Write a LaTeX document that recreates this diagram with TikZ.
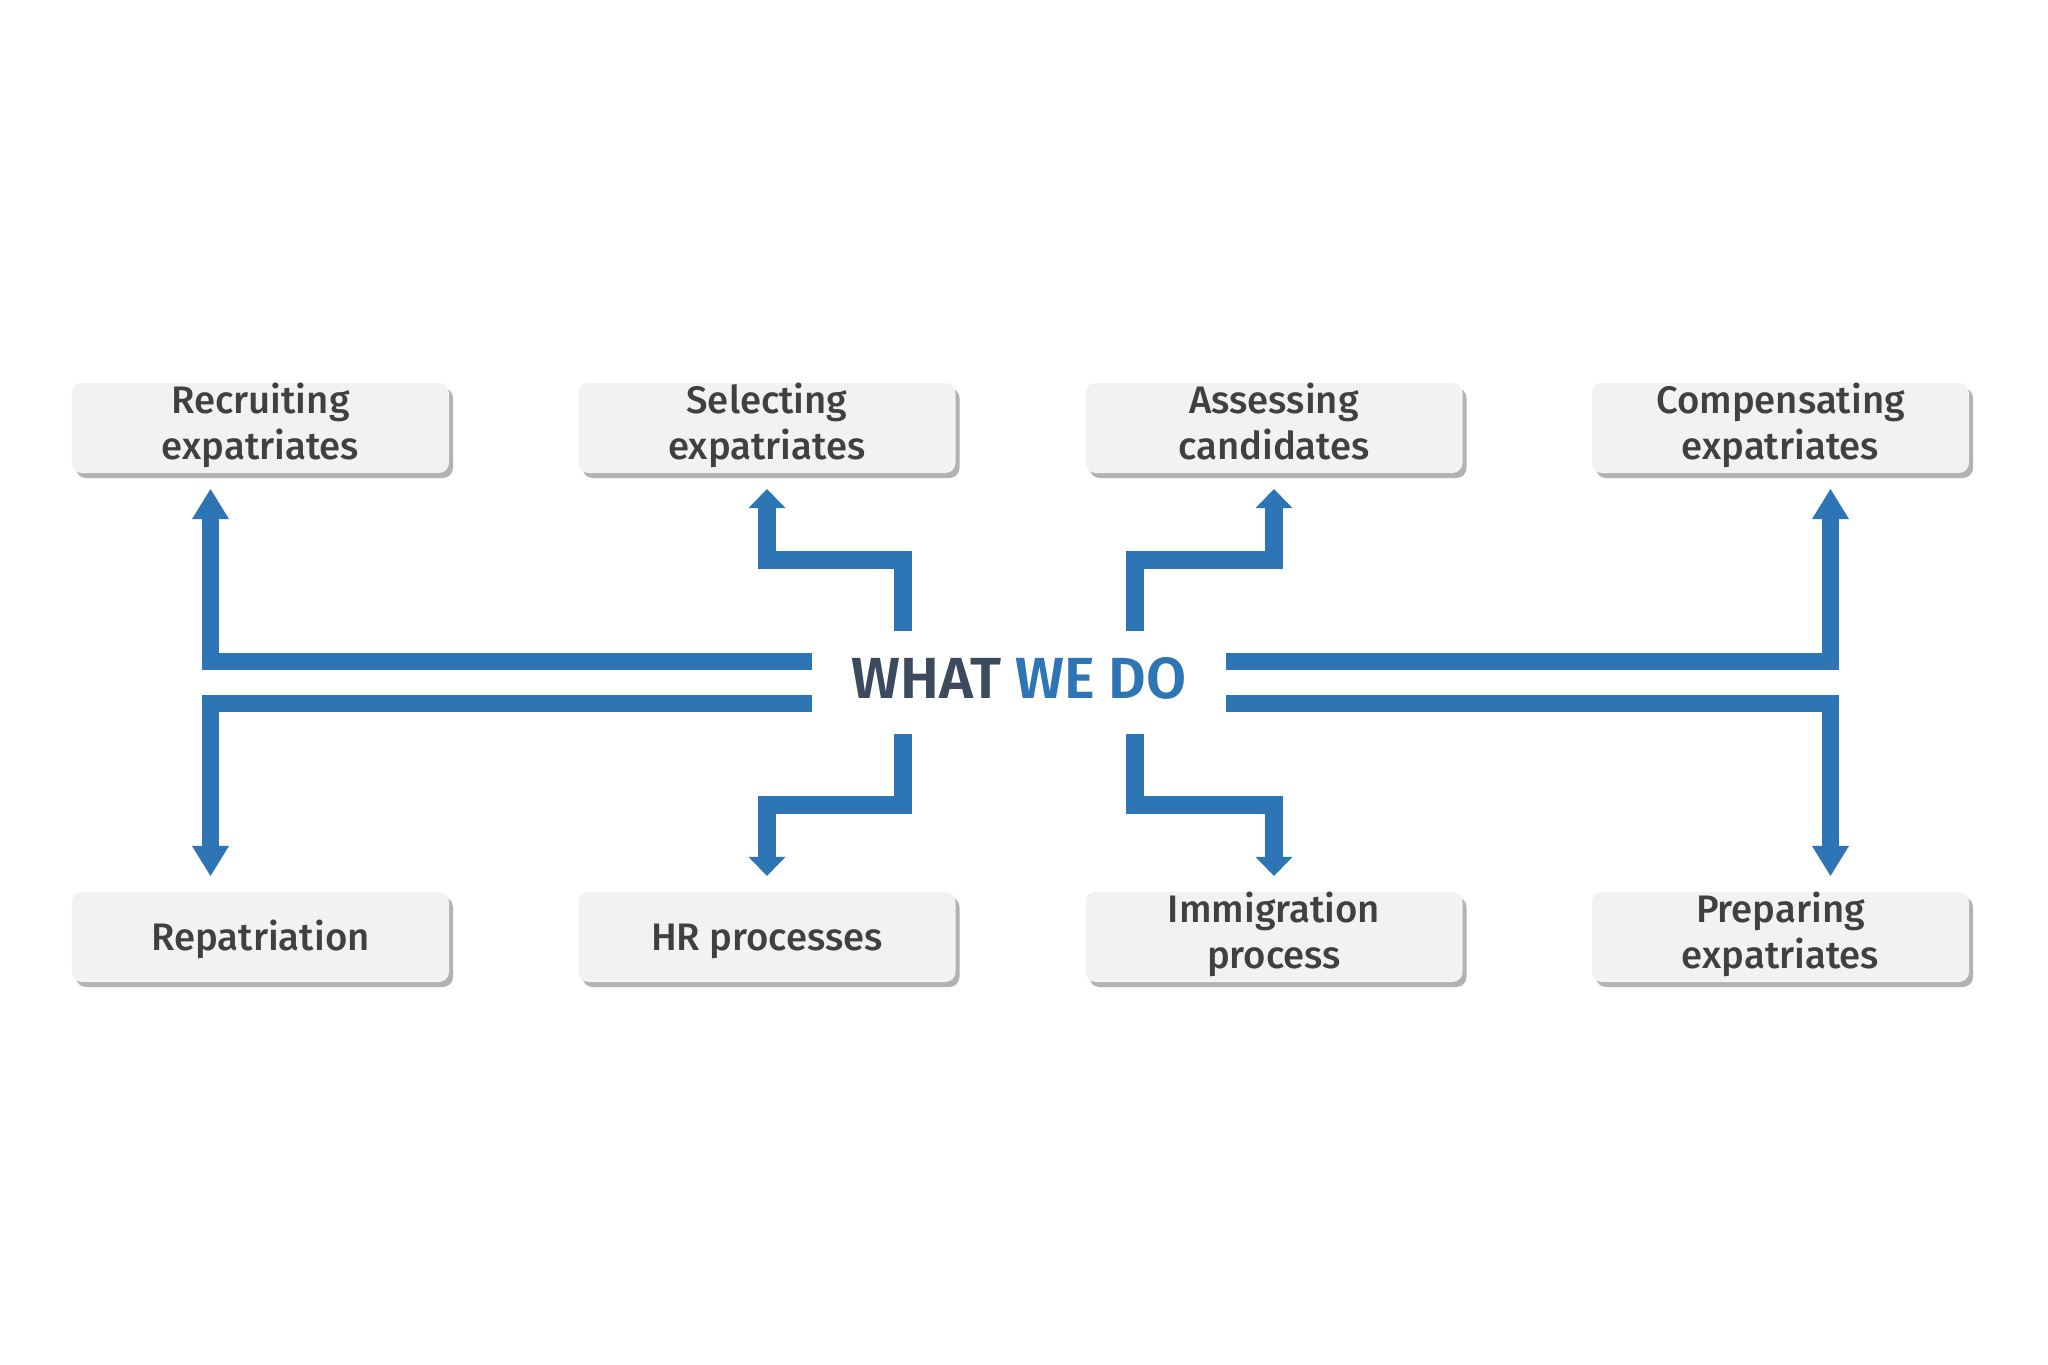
\documentclass[tikz,border=0pt]{standalone}
\usepackage{fontspec}
\setmainfont{Fira Sans}
\newfontfamily\boxfont{Fira Sans Medium}
\newfontfamily\headfont{Fira Sans SemiBold}
\usetikzlibrary{arrows.meta,shadows}
\definecolor{barblue}{HTML}{2E75B6}
\definecolor{boxgray}{HTML}{F2F2F2}
\definecolor{txtgray}{HTML}{404040}
\definecolor{headslate}{HTML}{3B4A5C}
\begin{document}
\begin{tikzpicture}[line width=0.6pt,
	task/.style={rectangle, rounded corners=1mm, fill=boxgray, minimum width=3.77cm, minimum height=0.9cm, inner sep=0pt, align=center, text=txtgray, font=\boxfont\fontsize{10.9}{13}\selectfont, execute at begin node=\rule{0pt}{11.6pt}, execute at end node=\strut, drop shadow={shadow xshift=0.4mm, shadow yshift=-0.5mm, fill=black, opacity=0.3}},
	bar/.style={draw=barblue, line width=1.75mm, -{Triangle[width=3.7mm,length=3mm,line width=0pt]}, shorten >=1.5mm},
	stub/.style={bar, -{Triangle[width=3.7mm,length=1.9mm,line width=0pt]}}]
		\fill[white] (0,0) rectangle (20.48,13.64);
		\node[task] (rec) at (2.605,9.36) {Recruiting\\expatriates};
		\node[task] (sel) at (7.67,9.36) {Selecting\\expatriates};
		\node[task] (ass) at (12.74,9.36) {Assessing\\candidates};
		\node[task] (comp) at (17.805,9.36) {Compensating\\expatriates};
		\node[task] (rep) at (2.605,4.27) {Repatriation};
		\node[task] (hr) at (7.67,4.27) {HR processes};
		\node[task] (imm) at (12.74,4.27) {Immigration\\process};
		\node[task] (prep) at (17.805,4.27) {Preparing\\expatriates};
		\node[minimum width=4.12cm, minimum height=1.01cm, inner sep=0pt, text depth=1mm, font=\headfont\fontsize{16.5}{18}\selectfont] (what) at (10.19,6.815) {\textcolor{headslate}{WHAT} \textcolor{barblue}{WE DO}};
		\draw[bar] ([yshift=2.1mm]what.west) -| ([xshift=-5mm]rec.south);
		\draw[bar] ([yshift=2.1mm]what.east) -| ([xshift=5mm]comp.south);
		\draw[bar] ([yshift=-2.1mm]what.west) -| ([xshift=-5mm]rep.north);
		\draw[bar] ([yshift=-2.1mm]what.east) -| ([xshift=5mm]prep.north);
		\draw[stub] ([xshift=-1.16cm]what.north) -- ++(0,0.71) -| (sel);
		\draw[stub] ([xshift=1.16cm]what.north) -- ++(0,0.71) -| (ass);
		\draw[stub] ([xshift=-1.16cm]what.south) -- ++(0,-0.71) -| (hr);
		\draw[stub] ([xshift=1.16cm]what.south) -- ++(0,-0.71) -| (imm);
\end{tikzpicture}
\end{document}
